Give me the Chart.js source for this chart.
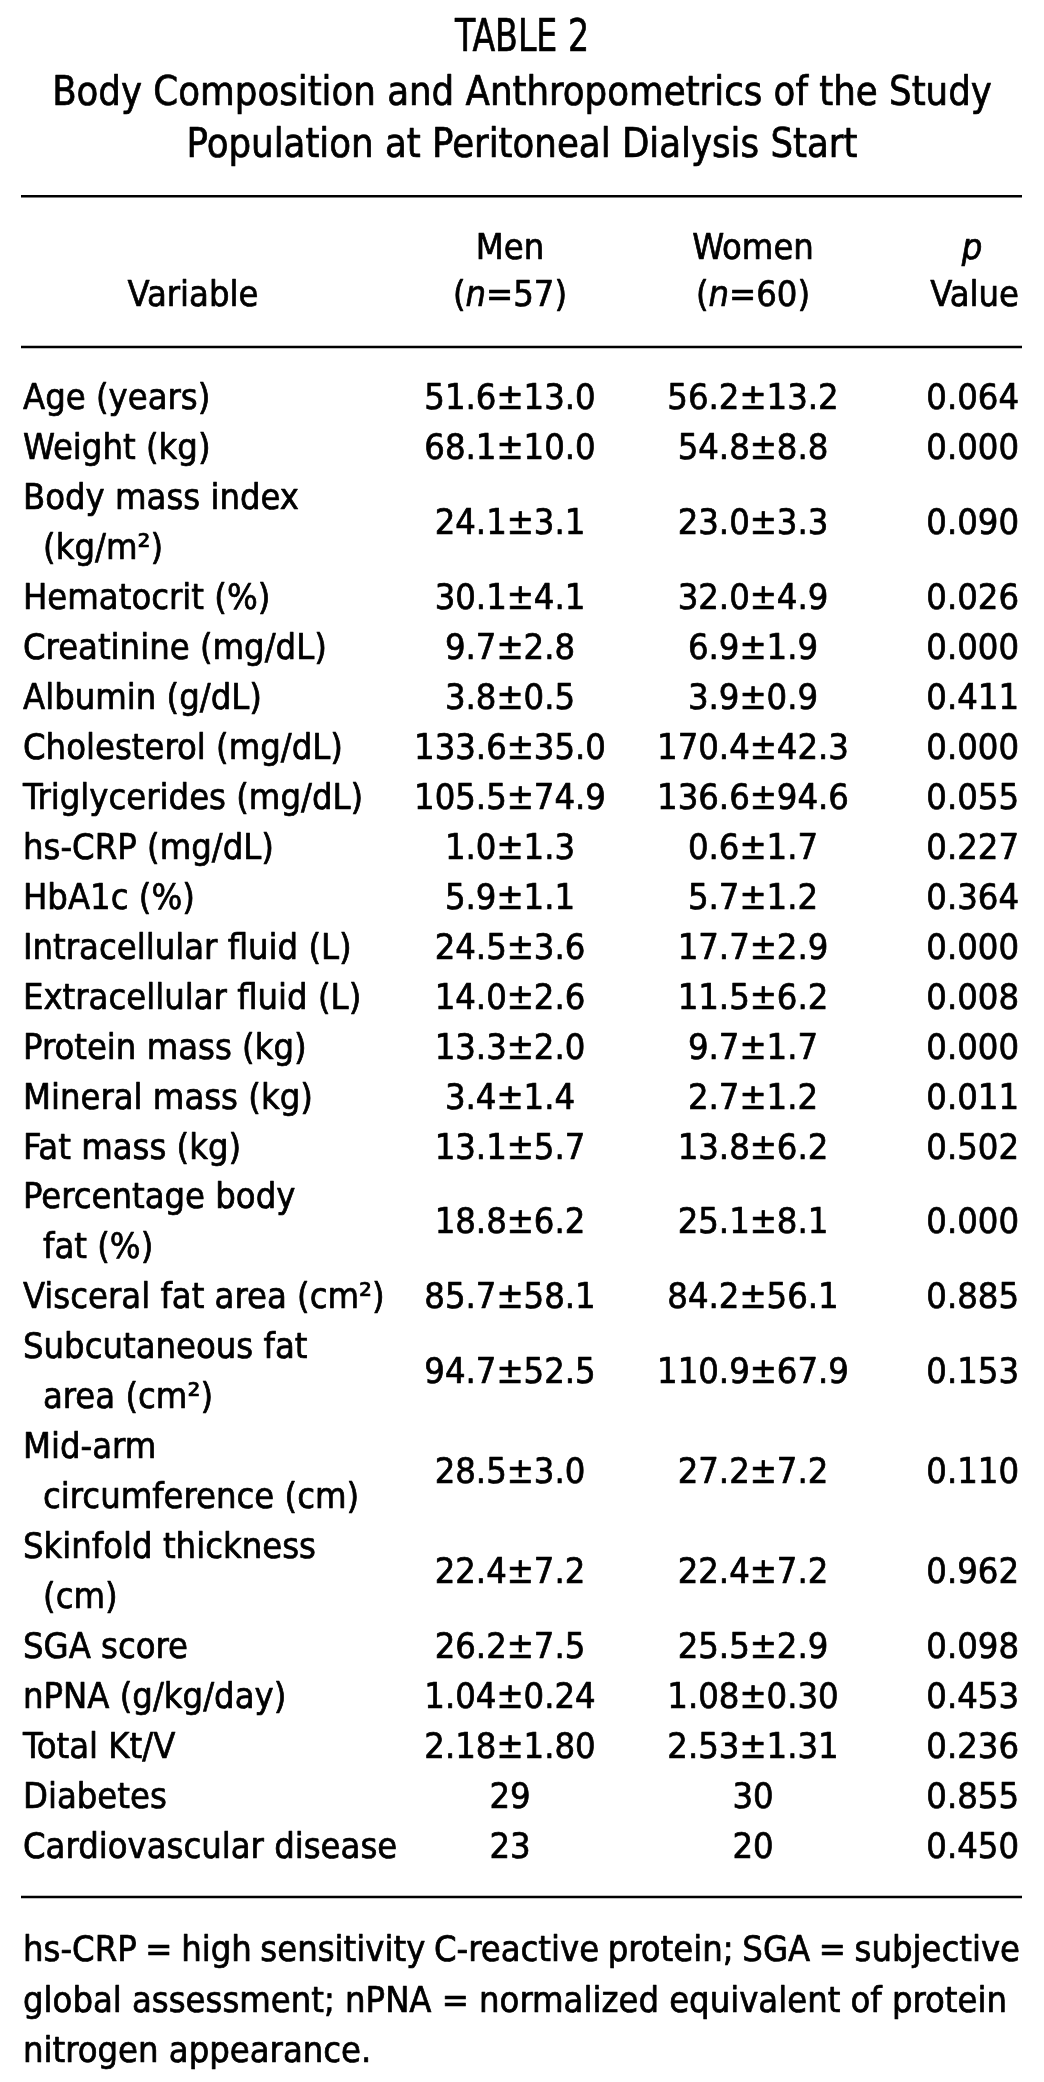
<!DOCTYPE html>
<html>
<head>
<meta charset="utf-8">
<title>Table 2</title>
<script src="https://cdn.jsdelivr.net/npm/chart.js@4.4.1/dist/chart.umd.min.js"></script>
<style>
  html, body { margin: 0; padding: 0; background: #fff; }
  #wrap { width: 1044px; height: 2082px; }
</style>
</head>
<body>
<div id="wrap"><canvas id="tableChart" width="1044" height="2082"></canvas></div>
<script>
// --- table content ---
const titleLines = ['TABLE 2', 'Body Composition and Anthropometrics of the Study', 'Population at Peritoneal Dialysis Start'];
const headVariable = 'Variable';
const headMen = ['Men', '(*n*=57)'];
const headWomen = ['Women', '(*n*=60)'];
const headP = ['*p*', 'Value'];

const variables = [
    'Age (years)', 'Weight (kg)', 'Body mass index\n(kg/m²)', 'Hematocrit (%)', 'Creatinine (mg/dL)',
    'Albumin (g/dL)', 'Cholesterol (mg/dL)', 'Triglycerides (mg/dL)', 'hs-CRP (mg/dL)', 'HbA1c (%)',
    'Intracellular fluid (L)', 'Extracellular fluid (L)', 'Protein mass (kg)', 'Mineral mass (kg)', 'Fat mass (kg)',
    'Percentage body\nfat (%)', 'Visceral fat area (cm²)', 'Subcutaneous fat\narea (cm²)', 'Mid-arm\ncircumference (cm)',
    'Skinfold thickness\n(cm)', 'SGA score', 'nPNA (g/kg/day)', 'Total Kt/V', 'Diabetes', 'Cardiovascular disease'
];
const menValues = [
    '51.6±13.0', '68.1±10.0', '24.1±3.1', '30.1±4.1', '9.7±2.8', '3.8±0.5', '133.6±35.0', '105.5±74.9',
    '1.0±1.3', '5.9±1.1', '24.5±3.6', '14.0±2.6', '13.3±2.0', '3.4±1.4', '13.1±5.7', '18.8±6.2',
    '85.7±58.1', '94.7±52.5', '28.5±3.0', '22.4±7.2', '26.2±7.5', '1.04±0.24', '2.18±1.80', '29', '23'
];
const womenValues = [
    '56.2±13.2', '54.8±8.8', '23.0±3.3', '32.0±4.9', '6.9±1.9', '3.9±0.9', '170.4±42.3', '136.6±94.6',
    '0.6±1.7', '5.7±1.2', '17.7±2.9', '11.5±6.2', '9.7±1.7', '2.7±1.2', '13.8±6.2', '25.1±8.1',
    '84.2±56.1', '110.9±67.9', '27.2±7.2', '22.4±7.2', '25.5±2.9', '1.08±0.30', '2.53±1.31', '30', '20'
];
const pValues = [
    0.064, 0.000, 0.090, 0.026, 0.000, 0.411, 0.000, 0.055, 0.227, 0.364, 0.000, 0.008, 0.000,
    0.011, 0.502, 0.000, 0.885, 0.153, 0.110, 0.962, 0.098, 0.453, 0.236, 0.855, 0.450
];
const footnoteLines = [
    'hs-CRP = high sensitivity C-reactive protein; SGA = subjective',
    'global assessment; nPNA = normalized equivalent of protein',
    'nitrogen appearance.'
];

// --- layout (y in text-line units, x in px) ---
const FONT = "'DejaVu Sans Condensed', 'DejaVu Sans', sans-serif";
const bodySize = 36;
const titleSizes = [45, 40, 40];
const titleSquash = [0.82, 0.99, 0.99];
const titleY = [-7.22, -6.12, -5.08];
const headY = [-3.0, -2.07];
const rulesY = [-4.0, -0.98, 30.04];
const footY = [31.06, 32.08, 33.08];
const footRight = [1020, 1007, null];
const colX = { variable: 23, men: 510, women: 753, p: 1019, pHead: 972, varHead: 193, title: 522 };
const ruleX = [21, 1022];
const indent = 20;
const inkWeight = 0.7; // extra stroke to match the heavier print

// row start line for each variable, values centred over its lines
const lineCounts = variables.map(v => v.split('\n').length);
const rowStart = [];
lineCounts.reduce((acc, n, i) => { rowStart[i] = acc; return acc + n; }, 0);
const rowMid = rowStart.map((s, i) => s + (lineCounts[i] - 1) / 2);

function inkText(ctx, t, x, y) {
    ctx.fillText(t, x, y);
    ctx.strokeText(t, x, y);
}

function drawRich(ctx, text, x, y, align, size, sx = 1) {
    // *x* marks italic segments
    const parts = text.split('*').map((t, i) => ({ t, italic: i % 2 === 1 })).filter(p => p.t);
    const fontOf = p => `${p.italic ? 'italic ' : ''}${size}px ${FONT}`;
    let total = 0;
    parts.forEach(p => { ctx.font = fontOf(p); total += ctx.measureText(p.t).width * sx; });
    let cx = align === 'center' ? x - total / 2 : align === 'right' ? x - total : x;
    ctx.textAlign = 'left';
    parts.forEach(p => {
        ctx.font = fontOf(p);
        ctx.save();
        ctx.translate(cx, y);
        ctx.scale(sx, 1);
        inkText(ctx, p.t, 0, 0);
        ctx.restore();
        cx += ctx.measureText(p.t).width * sx;
    });
}

function drawJustified(ctx, text, x, y, right) {
    const words = text.split(' ');
    const widths = words.map(w => ctx.measureText(w).width);
    const sum = widths.reduce((a, b) => a + b, 0);
    const gap = (right - x - sum) / (words.length - 1);
    let cx = x;
    ctx.textAlign = 'left';
    words.forEach((w, i) => { inkText(ctx, w, cx, y); cx += widths[i] + gap; });
}

const tablePlugin = {
    id: 'tableText',
    afterDatasetsDraw(chart) {
        const ctx = chart.ctx;
        const ys = chart.scales.y;
        const xs = chart.scales.x;
        const lineH = ys.getPixelForValue(1) - ys.getPixelForValue(0);
        const base = size => size * 0.36; // baseline offset from cap middle
        ctx.save();
        ctx.fillStyle = '#000';
        ctx.strokeStyle = '#000';
        ctx.textBaseline = 'alphabetic';
        ctx.lineJoin = 'round';

        // title
        ctx.lineWidth = inkWeight;
        titleLines.forEach((t, i) => {
            drawRich(ctx, t, xs.getPixelForValue(colX.title), ys.getPixelForValue(titleY[i]) + base(titleSizes[i]),
                'center', titleSizes[i], titleSquash[i]);
        });

        // rules
        ctx.lineWidth = 2.5;
        rulesY.forEach(r => {
            const py = ys.getPixelForValue(r);
            ctx.beginPath();
            ctx.moveTo(xs.getPixelForValue(ruleX[0]), py);
            ctx.lineTo(xs.getPixelForValue(ruleX[1]), py);
            ctx.stroke();
        });
        ctx.lineWidth = inkWeight;

        // header
        const hy = headY.map(v => ys.getPixelForValue(v) + base(bodySize));
        drawRich(ctx, headVariable, xs.getPixelForValue(colX.varHead), hy[1], 'center', bodySize);
        headMen.forEach((t, i) => drawRich(ctx, t, xs.getPixelForValue(colX.men), hy[i], 'center', bodySize));
        headWomen.forEach((t, i) => drawRich(ctx, t, xs.getPixelForValue(colX.women), hy[i], 'center', bodySize));
        drawRich(ctx, headP[0], xs.getPixelForValue(colX.pHead), hy[0], 'center', bodySize);
        drawRich(ctx, headP[1], xs.getPixelForValue(colX.p), hy[1], 'right', bodySize);

        // body cells from dataset elements
        const cellText = [
            i => variables[i],
            i => menValues[i],
            i => womenValues[i],
            i => pValues[i].toFixed(3)
        ];
        const aligns = ['left', 'center', 'center', 'right'];
        chart.data.datasets.forEach((ds, di) => {
            const meta = chart.getDatasetMeta(di);
            meta.data.forEach((el, i) => {
                const lines = cellText[di](i).split('\n');
                lines.forEach((ln, k) => {
                    const x = el.x + (k > 0 ? indent : 0);
                    drawRich(ctx, ln, x, el.y + k * lineH + base(bodySize), aligns[di], bodySize);
                });
            });
        });

        // footnote
        ctx.font = `${bodySize}px ${FONT}`;
        footnoteLines.forEach((t, i) => {
            const py = ys.getPixelForValue(footY[i]) + base(bodySize);
            if (footRight[i]) {
                drawJustified(ctx, t, xs.getPixelForValue(colX.variable), py, xs.getPixelForValue(footRight[i]));
            } else {
                ctx.textAlign = 'left';
                inkText(ctx, t, xs.getPixelForValue(colX.variable), py);
            }
        });
        ctx.restore();
    }
};

const pointsAt = (x, ys) => ys.map(y => ({ x, y }));

new Chart(document.getElementById('tableChart'), {
    type: 'scatter',
    data: {
        datasets: [
            { label: 'Variable', data: pointsAt(colX.variable, rowStart) },
            { label: 'Men', data: pointsAt(colX.men, rowMid) },
            { label: 'Women', data: pointsAt(colX.women, rowMid) },
            { label: 'p Value', data: pointsAt(colX.p, rowMid) }
        ].map(d => ({ ...d, pointRadius: 0, pointHoverRadius: 0 }))
    },
    options: {
        responsive: false,
        devicePixelRatio: 1,
        animation: false,
        layout: { padding: 0 },
        events: [],
        scales: {
            x: { type: 'linear', display: false, min: 0, max: 1044 },
            y: { type: 'linear', display: false, reverse: true, min: -7.925, max: 33.74 }
        },
        plugins: { legend: { display: false }, tooltip: { enabled: false } }
    },
    plugins: [tablePlugin]
});
</script>
</body>
</html>
